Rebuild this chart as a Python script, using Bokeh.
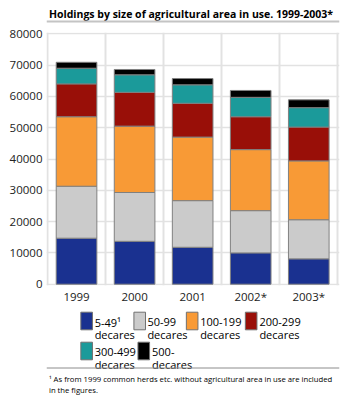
from bokeh.plotting import figure
from bokeh.layouts import column
from bokeh.models import Range1d, FixedTicker, ColumnDataSource, NumeralTickFormatter
from bokeh.core.properties import value
from bokeh.embed import file_html
from bokeh.resources import INLINE

# ---------------- data ----------------
title = "Holdings by size of agricultural area in use. 1999-2003*"
years = ["1999", "2000", "2001", "2002*", "2003*"]
d_5_49 = [14700, 13700, 11800, 10000, 8100]
d_50_99 = [16600, 15600, 14900, 13500, 12500]
d_100_199 = [22200, 21200, 20300, 19500, 18800]
d_200_299 = [10500, 10800, 10800, 10500, 10800]
d_300_499 = [5000, 5600, 5900, 6200, 6200]
d_500 = [1900, 1700, 2000, 2200, 2500]
series_line1 = ["5-49\u00b9", "50-99", "100-199", "200-299", "300-499", "500-"]
series_line2 = ["decares"] * 6
y_ticks = [0, 10000, 20000, 30000, 40000, 50000, 60000, 70000, 80000]
footnote = ["\u00b9 As from 1999 common herds etc. without agricultural area in use are included",
            "in the figures."]

colors = ["#1a3190", "#cbcbcb", "#f89a36", "#990f08", "#1b9a9a", "#000000"]
keys = ["a", "b", "c", "d", "e", "f"]
FONT = "Open Sans"
W = 361


def blank(height):
    f = figure(width=W, height=height, x_range=Range1d(0, W), y_range=Range1d(height, 0),
               output_backend="svg", toolbar_location=None, min_border=0)
    f.axis.visible = False
    f.grid.visible = False
    f.outline_line_color = None
    return f


# ---------------- header ----------------
head = blank(25)
head.text(x=[3], y=[13], text=[title], text_font=value(FONT), text_font_size="10.5px",
          text_font_style="bold", text_color="#000000", text_baseline="alphabetic")
head.segment(x0=[0], y0=[21], x1=[W], y1=[21], line_color="#c4c4c4", line_width=2)

# ---------------- chart ----------------
n = len(years)
xpos = [i + 0.5 for i in range(n)]
src = ColumnDataSource(dict(x=xpos, a=d_5_49, b=d_50_99, c=d_100_199, d=d_200_299,
                            e=d_300_499, f=d_500))
kx = 290.3 / n            # px per category
ky = 250.4 / 80000        # px per holding
p = figure(width=W, height=281,
           x_range=Range1d(-1 / kx, n + 1.7 / kx),
           y_range=Range1d(-1.3 / ky, 80000 + 1.3 / ky),
           output_backend="svg", toolbar_location=None,
           min_border_left=46, min_border_right=22, min_border_top=7, min_border_bottom=21)
p.outline_line_color = None
p.vbar_stack(keys, x="x", width=0.7, color=colors, source=src,
             line_color="#808080", line_width=1)

p.xaxis.ticker = FixedTicker(ticks=xpos)
p.xaxis.major_label_overrides = {xv: yl for xv, yl in zip(xpos, years)}
p.yaxis.ticker = FixedTicker(ticks=y_ticks)
p.yaxis.formatter = NumeralTickFormatter(format="0")
for ax in (p.xaxis, p.yaxis):
    ax.axis_line_color = None
    ax.major_tick_line_color = None
    ax.minor_tick_line_color = None
    ax.major_tick_out = 0
    ax.major_tick_in = 0
    ax.major_label_text_font = FONT
    ax.major_label_text_font_size = "11.5px"
    ax.major_label_text_color = "#222222"
p.xaxis.major_label_standoff = 3
p.yaxis.major_label_standoff = 4
p.xgrid.ticker = FixedTicker(ticks=list(range(n + 1)))
p.xgrid.grid_line_color = "#e2e2e2"
p.xgrid.grid_line_width = 2
p.ygrid.grid_line_color = "#e2e2e2"
p.ygrid.grid_line_width = 1.5

# ---------------- legend + footnote ----------------
FH = 91
foot = blank(FH)
sw_x = [42.3, 107.7, 172.3, 245, 42.3, 112.7]
tx_x = [59.3, 124.3, 189.3, 262.3, 59.3, 130]
row_top = [5.7, 5.7, 5.7, 5.7, 35.7, 35.7]
sw_w, sw_h = 14.3, 17.6
foot.quad(left=sw_x, right=[v + sw_w for v in sw_x], top=row_top,
          bottom=[v + sw_h for v in row_top], fill_color=colors, line_color="#707070",
          line_width=1)
foot.text(x=tx_x, y=[v + 10.1 for v in row_top], text=series_line1, text_font=value(FONT),
          text_font_size="11px", text_color="#000000", text_baseline="alphabetic")
foot.text(x=tx_x, y=[v + 22.4 for v in row_top], text=series_line2, text_font=value(FONT),
          text_font_size="11px", text_color="#000000", text_baseline="alphabetic")
foot.segment(x0=[0], y0=[61.5], x1=[W], y1=[61.5], line_color="#8c8c8c", line_width=1)
foot.text(x=[3, 3], y=[72.5, 83.5], text=footnote, text_font=value(FONT),
          text_font_size="7.7px", text_color="#000000", text_baseline="alphabetic")

layout = column(head, p, foot, spacing=0)
open("out.html", "w").write(file_html(layout, INLINE))
